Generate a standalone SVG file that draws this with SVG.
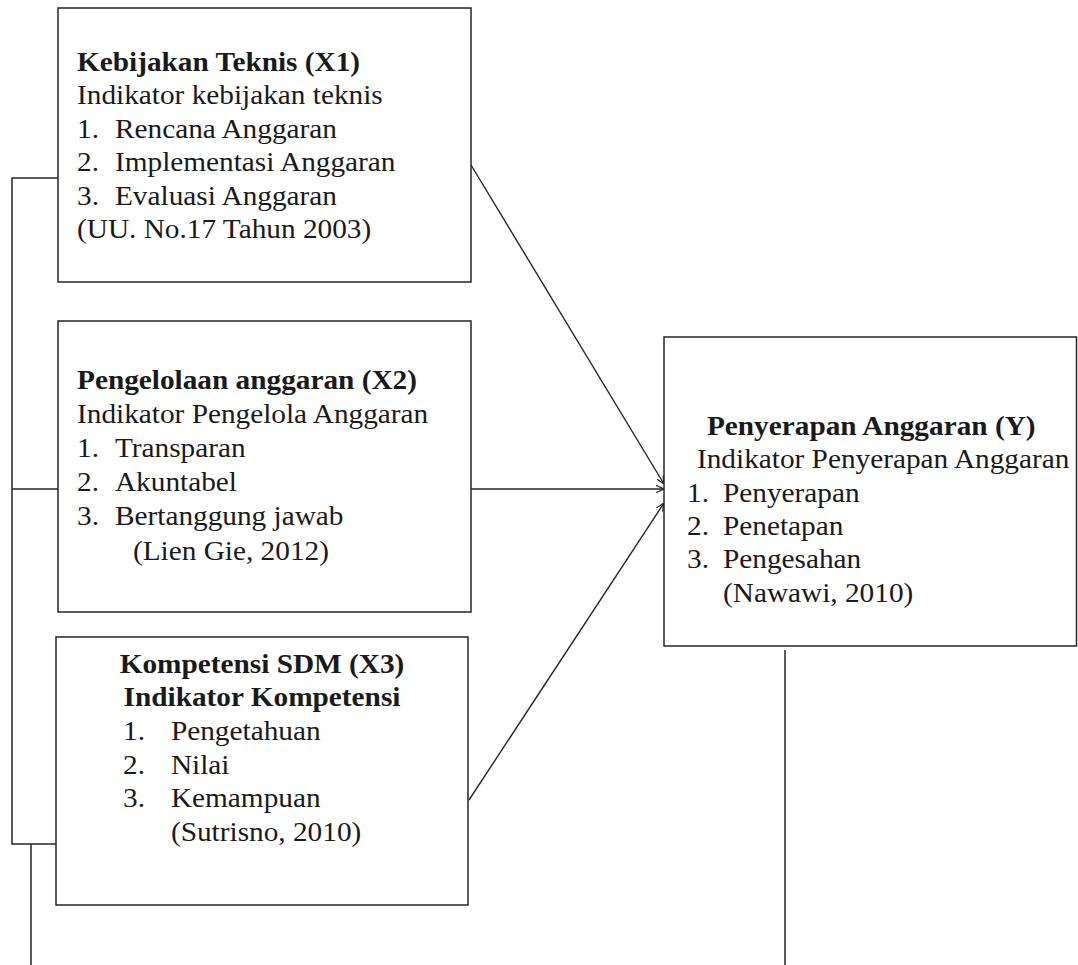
<svg xmlns="http://www.w3.org/2000/svg" width="1078" height="965" viewBox="0 0 1078 965">
<style>
.box{fill:#fff;stroke:#262626;stroke-width:1.5}
.t{font-family:"Liberation Serif","Times New Roman",serif;font-size:27px;fill:#1a1a1a}
.b{font-weight:bold}
.ln{fill:none;stroke:#262626;stroke-width:1.5}
.ar{fill:none;stroke:#262626;stroke-width:1.4}
</style>
<defs>
<marker id="arr" viewBox="0 0 10 10" refX="10" refY="5" markerWidth="8" markerHeight="8" markerUnits="userSpaceOnUse" orient="auto">
<path d="M0,0.5 L10,5 L0,9.5" fill="none" stroke="#262626" stroke-width="1.6"/>
</marker>
</defs>
<rect width="1078" height="965" fill="#fff"/>
<g id="connectors">
<polyline class="ln" points="58,178 12,178 12,844 56,844"/>
<line class="ln" x1="12" y1="489" x2="58" y2="489"/>
<line class="ln" x1="31" y1="844" x2="31" y2="965"/>
<line class="ln" x1="785" y1="650" x2="785" y2="965"/>
<line class="ar" x1="471" y1="165" x2="664" y2="484" marker-end="url(#arr)"/>
<line class="ar" x1="471" y1="489" x2="664" y2="489" marker-end="url(#arr)"/>
<line class="ar" x1="469" y1="800" x2="664" y2="503" marker-end="url(#arr)"/>
</g>
<g id="x1">
<rect class="box" x="58" y="8" width="413" height="274"/>
<g transform="translate(77 0) scale(1.085 1)">
<text class="t b" x="0" y="71">Kebijakan Teknis (X1)</text>
<text class="t" x="0" y="104.5">Indikator kebijakan teknis</text>
<text class="t" x="0" y="138">1.</text><text class="t" x="35" y="138">Rencana Anggaran</text>
<text class="t" x="0" y="171.5">2.</text><text class="t" x="35" y="171.5">Implementasi Anggaran</text>
<text class="t" x="0" y="205">3.</text><text class="t" x="35" y="205">Evaluasi Anggaran</text>
<text class="t" x="0" y="238.5">(UU. No.17 Tahun 2003)</text>
</g>
</g>
<g id="x2">
<rect class="box" x="58" y="321" width="413" height="291"/>
<g transform="translate(77 0) scale(1.085 1)">
<text class="t b" x="0" y="389">Pengelolaan anggaran (X2)</text>
<text class="t" x="0" y="423">Indikator Pengelola Anggaran</text>
<text class="t" x="0" y="457">1.</text><text class="t" x="35" y="457">Transparan</text>
<text class="t" x="0" y="491">2.</text><text class="t" x="35" y="491">Akuntabel</text>
<text class="t" x="0" y="525">3.</text><text class="t" x="35" y="525">Bertanggung jawab</text>
<text class="t" x="51.6" y="560">(Lien Gie, 2012)</text>
</g>
</g>
<g id="x3">
<rect class="box" x="56" y="637" width="412" height="268"/>
<g transform="translate(262 0) scale(1.085 1)">
<text class="t b" x="0" y="673" text-anchor="middle">Kompetensi SDM (X3)</text>
<text class="t b" x="0" y="706" text-anchor="middle">Indikator Kompetensi</text>
</g>
<g transform="translate(123 0) scale(1.085 1)">
<text class="t" x="0" y="740">1.</text><text class="t" x="44.2" y="740">Pengetahuan</text>
<text class="t" x="0" y="774">2.</text><text class="t" x="44.2" y="774">Nilai</text>
<text class="t" x="0" y="807">3.</text><text class="t" x="44.2" y="807">Kemampuan</text>
<text class="t" x="44.2" y="841">(Sutrisno, 2010)</text>
</g>
</g>
<g id="y">
<rect class="box" x="664" y="337" width="412.5" height="309"/>
<g transform="translate(687 0) scale(1.085 1)">
<text class="t b" x="18.4" y="435">Penyerapan Anggaran (Y)</text>
<text class="t" x="9.2" y="468">Indikator Penyerapan Anggaran</text>
<text class="t" x="0" y="502">1.</text><text class="t" x="33.2" y="502">Penyerapan</text>
<text class="t" x="0" y="535">2.</text><text class="t" x="33.2" y="535">Penetapan</text>
<text class="t" x="0" y="568">3.</text><text class="t" x="33.2" y="568">Pengesahan</text>
<text class="t" x="33.2" y="602">(Nawawi, 2010)</text>
</g>
</g>
</svg>
